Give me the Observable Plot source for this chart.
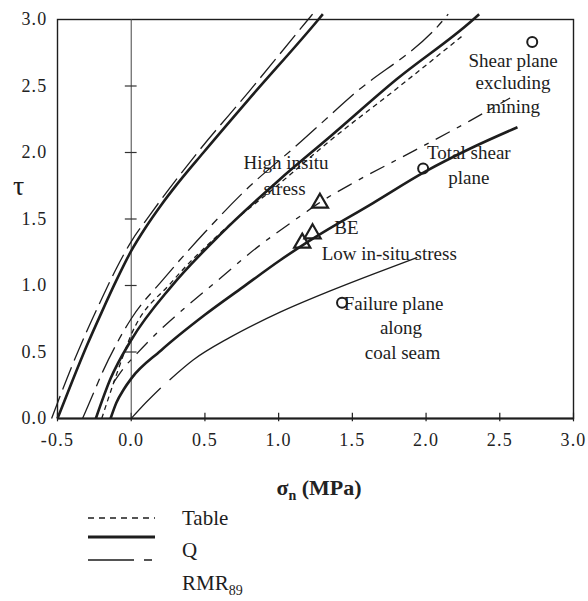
<!DOCTYPE html>
<html><head><meta charset="utf-8">
<script src="https://cdn.jsdelivr.net/npm/d3@7"></script>
<script src="https://cdn.jsdelivr.net/npm/@observablehq/plot@0.6"></script>
<style>
body{margin:0;background:#fff;font-family:"Liberation Serif","Times New Roman",serif;color:#222;}
#wrap{position:relative;width:588px;height:601px;overflow:hidden;}
#chart{position:absolute;left:0;top:0;}
#chart svg g[aria-label="x-axis tick label"] text,#chart svg g[aria-label="y-axis tick label"] text{letter-spacing:1.2px;}
#xlabel{position:absolute;top:477px;left:219px;width:200px;text-align:center;font-weight:bold;font-size:22px;line-height:1;}
#xlabel sub{font-size:14px;}
#legend{position:absolute;left:0;top:500px;}
</style></head>
<body><div id="wrap"><div id="chart"></div>
<div id="xlabel">σ<sub>n</sub> (MPa)</div>
<svg id="legend" width="588" height="101"></svg>
</div>
<script>
// ---- axis ticks ----
const xTicks = [-0.5, 0, 0.5, 1.0, 1.5, 2.0, 2.5, 3.0];
const yTicks = [0, 0.5, 1.0, 1.5, 2.0, 2.5, 3.0];

// ---- curves (sigma_n, tau) ----
const highQ = [[-0.5,0],[-0.4,0.28],[-0.3,0.55],[-0.2,0.8],[-0.1,1.04],[0,1.26],[0.1,1.44],[0.2,1.6],[0.31,1.76],[0.49,2.0],[0.79,2.39],[1.27,3.0],[1.3,3.04]];
const highRMR = [[-0.54,0],[-0.4,0.4],[-0.3,0.66],[-0.2,0.9],[-0.1,1.13],[0,1.33],[0.12,1.52],[0.45,2.0],[0.8,2.46],[1.2,3.0],[1.23,3.04]];
const midQ = [[-0.24,0],[-0.14,0.3],[0,0.59],[0.27,0.99],[0.61,1.39],[1.0,1.79],[1.35,2.12],[1.8,2.55],[2.32,3.0],[2.36,3.04]];
const midTable = [[-0.2,0],[-0.1,0.33],[0,0.63],[0.27,1.02],[0.61,1.4],[1.0,1.76],[1.35,2.09],[1.8,2.48],[2.25,2.88]];
const midRMR = [[-0.33,0],[-0.26,0.18],[-0.19,0.36],[-0.1,0.56],[0,0.75],[0.22,1.05],[0.5,1.4],[0.76,1.7],[1.15,2.08],[1.5,2.43],[2.12,3.0],[2.15,3.04]];
const lowQ = [[-0.14,0],[-0.1,0.12],[-0.05,0.22],[0,0.3],[0.2,0.51],[0.5,0.78],[0.76,0.99],[1.01,1.19],[1.2,1.33],[1.64,1.62],[2.0,1.86],[2.3,2.03],[2.62,2.19]];
const lowRMR = [[-0.12,0.27],[-0.05,0.38],[0.04,0.49],[0.2,0.67],[0.31,0.78],[0.61,1.06],[0.79,1.23],[1.17,1.54],[1.26,1.61],[1.52,1.78],[1.81,1.95],[2.05,2.09],[2.3,2.24],[2.57,2.41]];
const seamStart = [[0,0],[0.1,0.12],[0.2,0.23]];
const seam = [[0.26,0.29],[0.42,0.44],[0.67,0.61],[1.01,0.8],[1.35,0.96],[1.65,1.09],[1.94,1.21]];

// ---- markers ----
const triangles = [[1.28,1.62],[1.16,1.32],[1.23,1.39]];
const circles = [[2.72,2.83],[1.98,1.88],[1.43,0.87]];

// ---- annotations ----
const notes = [
  {t:"Shear plane", x:2.59, y:2.69},
  {t:"excluding", x:2.59, y:2.52},
  {t:"mining", x:2.59, y:2.34},
  {t:"Total shear", x:2.29, y:2.0},
  {t:"plane", x:2.29, y:1.81},
  {t:"High insitu", x:1.05, y:1.92},
  {t:"stress", x:1.04, y:1.73},
  {t:"BE", x:1.46, y:1.43},
  {t:"Low in-situ stress", x:1.75, y:1.24},
  {t:"Failure plane", x:1.78, y:0.86},
  {t:"along", x:1.83, y:0.68},
  {t:"coal seam", x:1.84, y:0.49}
];

const toRows = (pts, name) => pts.map(([x, y]) => ({x, y, name}));
const ink = "#1d1d1d";
const line = (pts, name, opts) => Plot.line(toRows(pts, name), {x: "x", y: "y", curve: "monotone-x", stroke: ink, strokeLinecap: "butt", ...opts});
const fmt = d => d.toFixed(1);

const chart = Plot.plot({
  width: 588, height: 460,
  marginLeft: 57, marginRight: 15, marginTop: 19, marginBottom: 42,
  x: {domain: [-0.5, 3]},
  y: {domain: [0, 3]},
  style: {fontFamily: "'Liberation Serif', 'Times New Roman', serif", fontSize: "17px", color: "#222", background: "transparent", overflow: "visible"},
  marks: [
    Plot.frame({stroke: ink, strokeWidth: 1.4}),
    Plot.ruleY([0], {stroke: ink, strokeWidth: 2}),
    Plot.axisX(xTicks, {tickFormat: fmt, tickSize: 0, tickPadding: 15, fontSize: 18, label: null}),
    Plot.axisY(yTicks, {tickFormat: fmt, tickSize: 0, tickPadding: 10, fontSize: 18, label: null}),
    Plot.ruleX(xTicks, {y1: -0.025, y2: 0.04, stroke: ink, strokeWidth: 1.2}),
    Plot.ruleX([0], {stroke: "#444", strokeWidth: 1}),
    Plot.ruleY(yTicks.filter(d => d > 0 && d < 3), {x1: -0.04, x2: 0.04, stroke: "#333", strokeWidth: 1.2}),
    Plot.text(["τ"], {x: -0.5, y: 1.75, dx: -39, fontSize: 28, fill: ink}),
    line(highRMR, "highRMR", {strokeWidth: 1.3, strokeDasharray: "24,7"}),
    line(highQ, "highQ", {strokeWidth: 2.6}),
    line(midRMR, "midRMR", {strokeWidth: 1.3, strokeDasharray: "28,7,8,7"}),
    line(midTable, "midTable", {strokeWidth: 1.3, strokeDasharray: "5,4"}),
    line(midQ, "midQ", {strokeWidth: 2.6}),
    line(lowRMR, "lowRMR", {strokeWidth: 1.3, strokeDasharray: "16,8,5,8"}),
    line(lowQ, "lowQ", {strokeWidth: 2.6}),
    line(seamStart, "seamStart", {strokeWidth: 1.2}),
    line(seam, "seam", {strokeWidth: 1.3}),
    Plot.dot(triangles, {x: d => d[0], y: d => d[1], symbol: "triangle", r: 6, stroke: ink, strokeWidth: 2.2, fill: "none"}),
    Plot.dot(circles, {x: d => d[0], y: d => d[1], r: 5, stroke: ink, strokeWidth: 2, fill: "none"}),
    Plot.text(notes, {x: "x", y: "y", text: "t", fontSize: 19, fill: ink})
  ]
});
document.getElementById("chart").appendChild(chart);

// ---- legend ----
const legendItems = [
  {label: "Table", dash: "6,5", w: 1.3},
  {label: "Q", dash: null, w: 3},
  {label: "RMR", sub: "89", dash: "46,10,8,200", w: 1.4}
];
const lg = d3.select("#legend");
const lineY = [18, 37, 60];
const textY = [25, 57, 90];
legendItems.forEach((d, i) => {
  lg.append("line").attr("x1", 88).attr("x2", 155).attr("y1", lineY[i]).attr("y2", lineY[i])
    .attr("stroke", ink).attr("stroke-width", d.w).attr("stroke-dasharray", d.dash);
  const t = lg.append("text").attr("x", 182).attr("y", textY[i]).attr("font-size", 21)
    .attr("font-family", "'Liberation Serif', 'Times New Roman', serif").attr("fill", ink).text(d.label);
  if (d.sub) t.append("tspan").attr("font-size", 14).attr("dy", 5).text(d.sub);
});
</script>
</body></html>
